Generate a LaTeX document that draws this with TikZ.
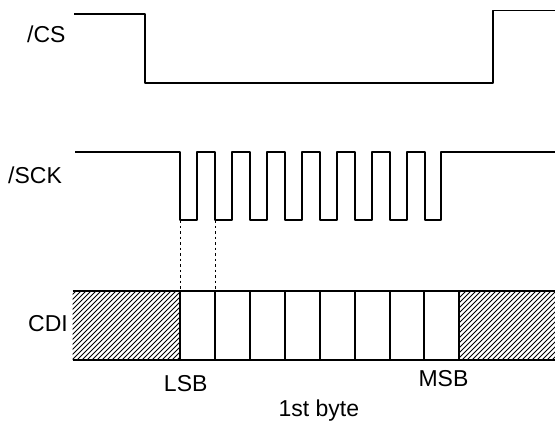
\documentclass[tikz,border=0pt]{standalone}
\usepackage{fontspec}
\setmainfont{Liberation Sans}
\begin{document}
\begin{tikzpicture}[x=1pt,y=-1pt,
  wave/.style={line width=1.7pt, line join=round},
  lbl/.style={font=\fontsize{23}{27}\selectfont, inner sep=0pt},
  hatchline/.style={line width=1pt},
  guide/.style={line width=0.9pt, dash pattern=on 2.5pt off 3pt}]
\useasboundingbox (0,0) rectangle (555,423);
% labels
\node[lbl, anchor=base west] (cs) at (27,42) {/CS};
\node[lbl, anchor=base west] (sck) at (8,183) {/SCK};
\node[lbl, anchor=base east] (cdi) at (68,331) {CDI};
\node[lbl, anchor=base] (lsb) at (185.7,391) {LSB};
\node[lbl, anchor=base] (msb) at (443.5,386) {MSB};
\node[lbl, anchor=base] (byte) at (318.8,416) {1st byte};
% /CS waveform
\draw[wave] (74,14) -- (145,14) -- (145,83) -- (493,83) -- (493,10.5) -- (555,10.5);
% /SCK waveform
\draw[wave] (75,152) -- (180,152) -- (180,220) -- (197,220) -- (197,152) -- (215,152)
  -- (215,220) -- (232,220) -- (232,152) -- (250,152)
  -- (250,220) -- (267,220) -- (267,152) -- (285,152)
  -- (285,220) -- (302,220) -- (302,152) -- (320,152)
  -- (320,220) -- (337,220) -- (337,152) -- (355,152)
  -- (355,220) -- (372,220) -- (372,152) -- (390,152)
  -- (390,220) -- (407,220) -- (407,152) -- (425,152)
  -- (425,220) -- (441,220) -- (441,152) -- (555,152);
% dotted guides
\coordinate (g1a) at (180,220); \coordinate (g1b) at (180,291);
\coordinate (g2a) at (215,220); \coordinate (g2b) at (215,291);
\draw[guide] (g1a) -- (g1b);
\draw[guide] (g2a) -- (g2b);
% CDI hatching
\begin{scope}
  \clip (72.7,291) rectangle (180,360) (459,291) rectangle (555,360);
  \foreach \x in {0,5,...,560} { \draw[hatchline] (\x,362) -- ({\x+71},291); }
\end{scope}
% CDI box
\draw[wave] (72.7,291) -- (555,291);
\draw[wave] (72.7,360) -- (555,360);
\foreach \xx in {180,215,250,285,320,355,390,424,459} { \draw[wave] (\xx,291) -- (\xx,360); }
\end{tikzpicture}
\end{document}
